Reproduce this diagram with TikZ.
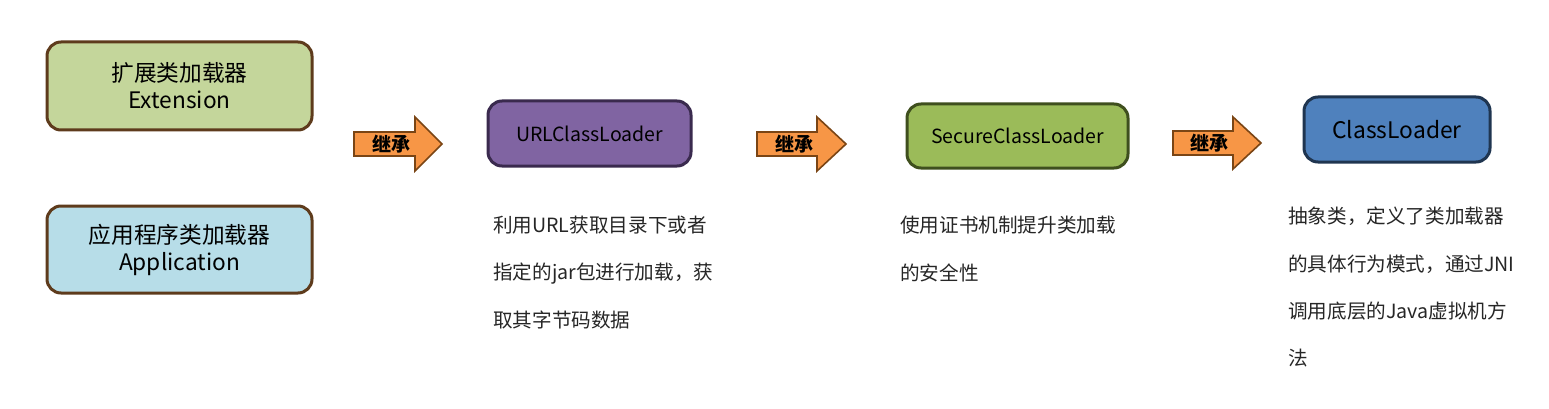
\documentclass[tikz,border=0pt]{standalone}
\usepackage{fontspec}
\setmainfont{Noto Sans CJK SC}
\definecolor{extfill}{HTML}{C4D69B}
\definecolor{appfill}{HTML}{B7DDE8}
\definecolor{brownline}{HTML}{5E3B1C}
\definecolor{urlfill}{HTML}{8064A2}
\definecolor{urlline}{HTML}{3A2A4E}
\definecolor{secfill}{HTML}{9BBB59}
\definecolor{secline}{HTML}{3F4F1E}
\definecolor{clfill}{HTML}{4F81BD}
\definecolor{clline}{HTML}{1F3550}
\definecolor{arrfill}{HTML}{F79646}
\definecolor{arrline}{HTML}{7A4515}
\tikzset{
  box/.style={draw, line width=3pt, rounded corners=14pt, align=center, inner sep=0pt},
  boxtext/.style={font={\fontsize{22.7pt}{27pt}\selectfont}},
  clstext/.style={font={\fontsize{19.5pt}{24pt}\selectfont}},
  bigclstext/.style={font={\fontsize{22.8pt}{27pt}\selectfont}},
  desc/.style={anchor=north west, inner sep=0pt, align=left, font={\fontsize{19.6pt}{47.3pt}\selectfont}, text=black!85},
  arrowbody/.style={fill=arrfill, draw=arrline, line width=1.6pt, line join=miter},
  arrowlabel/.style={font={\fontsize{19pt}{22pt}\selectfont\bfseries}, text=black, inner sep=0pt}
}
\begin{document}
\begin{tikzpicture}[x=1pt,y=-1pt]
\useasboundingbox (0,0) rectangle (1549,409);
\fill[white] (0,0) rectangle (1549,409);
% left boxes
\node[box, boxtext, draw=brownline, fill=extfill, minimum width=265pt, minimum height=88pt] (ext) at (179.5,86) {扩展类加载器\\Extension};
\node[box, boxtext, draw=brownline, fill=appfill, minimum width=265pt, minimum height=87pt] (app) at (179.5,249.5) {应用程序类加载器\\Application};
% class boxes
\node[box, clstext, draw=urlline, fill=urlfill, minimum width=203pt, minimum height=65pt] (url) at (589.5,133.5) {URLClassLoader};
\node[box, clstext, draw=secline, fill=secfill, minimum width=221pt, minimum height=64pt] (sec) at (1017.5,136) {SecureClassLoader};
\node[box, bigclstext, draw=clline, fill=clfill, minimum width=186pt, minimum height=65pt] (cl) at (1397,129.5) {ClassLoader};
% inherit arrows
\path[arrowbody]
  (354,132) -- (415,132) -- (415,117) -- (442,144) -- (415,171) -- (415,156) -- (354,156) -- cycle;
\node[arrowlabel] (a1) at (391,144) {继承};
\path[arrowbody]
  (757,132) -- (817,132) -- (817,117) -- (846,144) -- (817,171) -- (817,156) -- (757,156) -- cycle;
\node[arrowlabel] (a2) at (794,144) {继承};
\path[arrowbody]
  (1173,131) -- (1233,131) -- (1233,117) -- (1261,143) -- (1233,169) -- (1233,155) -- (1173,155) -- cycle;
\node[arrowlabel] (a3) at (1209,143) {继承};
% descriptions
\node[desc] (d1) at (493,216) {利用URL获取目录下或者\\指定的jar包进行加载，获\\取其字节码数据};
\node[desc] (d2) at (900,216) {使用证书机制提升类加载\\的安全性};
\node[desc] (d3) at (1288,207) {抽象类，定义了类加载器\\的具体行为模式，通过JNI\\调用底层的Java虚拟机方\\法};
\end{tikzpicture}
\end{document}
